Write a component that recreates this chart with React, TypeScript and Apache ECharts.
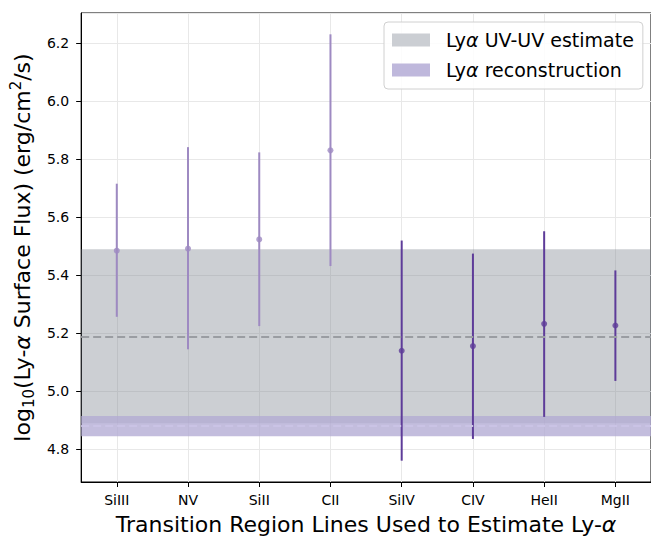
import React, { useEffect, useRef } from "react";
import * as echarts from "echarts";

const categories = ["SiIII", "NV", "SiII", "CII", "SiIV", "CIV", "HeII", "MgII"];
const values = [5.485, 5.492, 5.524, 5.831, 5.14, 5.156, 5.233, 5.227];
const lower = [5.257, 5.145, 5.225, 5.432, 4.761, 4.836, 4.912, 5.036];
const upper = [5.716, 5.842, 5.824, 6.231, 5.52, 5.475, 5.552, 5.417];
// 0 = lighter (first group), 1 = darker (second group)
const group = [0, 0, 0, 0, 1, 1, 1, 1];

const uvEstimate = { center: 5.19, lo: 4.89, hi: 5.49 };
const reconstruction = { center: 4.88, lo: 4.845, hi: 4.915 };

const yMin = 4.6875;
const yMax = 6.3045;

const FONT = "DejaVu Sans";
const groupColors = ["#9e8ac2", "#5e3c99"];

export default function App() {
  const ref = useRef<HTMLDivElement>(null);

  useEffect(() => {
    if (!ref.current) return;
    const chart = echarts.init(ref.current, null, { renderer: "svg" });

    const errData = categories.map((_, i) => [i, lower[i], upper[i], group[i]]);
    const ptData = categories.map((_, i) => ({
      value: [i, values[i]],
      itemStyle: { color: groupColors[group[i]] },
    }));

    chart.setOption({
      animation: false,
      backgroundColor: "#fff",
      textStyle: { fontFamily: FONT },
      grid: {
        left: 77,
        right: 0,
        top: 13,
        bottom: 53,
        show: true,
        borderColor: "#000",
        borderWidth: 1,
        backgroundColor: "transparent",
      },
      legend: {
        show: true,
        orient: "vertical",
        left: 384,
        top: 22,
        padding: [8, 9, 9, 8],
        itemGap: 10,
        itemWidth: 38,
        itemHeight: 13,
        icon: "rect",
        backgroundColor: "rgba(255,255,255,0.85)",
        borderColor: "#d0d0d0",
        borderWidth: 1,
        borderRadius: 4,
        selectedMode: false,
        data: ["Lyα UV-UV estimate", "Lyα reconstruction"],
        formatter: (name: string) => name.replace("α", "{i|α}"),
        textStyle: {
          fontFamily: FONT,
          fontSize: 19,
          lineHeight: 20,
          color: "#000",
          padding: [0, 0, 0, 11],
          rich: {
            i: { fontFamily: FONT, fontSize: 19, fontStyle: "italic", color: "#000", lineHeight: 20 },
          },
        },
      },
      xAxis: {
        type: "category",
        data: categories,
        boundaryGap: true,
        name: "Transition Region Lines Used to Estimate Ly-{i|α}",
        nameLocation: "middle",
        nameGap: 30,
        nameTextStyle: {
          fontFamily: FONT,
          fontSize: 22,
          color: "#000",
          lineHeight: 24,
          rich: {
            i: { fontFamily: FONT, fontSize: 22, fontStyle: "italic", color: "#000", lineHeight: 24 },
          },
        },
        axisLine: { show: true, lineStyle: { color: "#000", width: 1 } },
        axisTick: { show: true, alignWithLabel: true, length: 5, lineStyle: { color: "#000", width: 1 } },
        axisLabel: { fontFamily: FONT, fontSize: 14, color: "#000", margin: 11 },
        splitLine: { show: true, alignWithLabel: true, lineStyle: { color: "#e8e8e8", width: 1 } },
      },
      yAxis: {
        type: "value",
        min: yMin,
        max: yMax,
        splitNumber: 8,
        name:
          "{b|log}{s|10}{b|(Ly-}{i|α}{b| Surface Flux) (erg/cm}{p|2}{b|/s)}",
        nameLocation: "middle",
        nameGap: 39,
        nameTextStyle: {
          fontFamily: FONT,
          color: "#000",
          rich: {
            b: { fontFamily: FONT, fontSize: 22, color: "#000", lineHeight: 28 },
            i: { fontFamily: FONT, fontSize: 22, fontStyle: "italic", color: "#000", lineHeight: 28 },
            s: { fontFamily: FONT, fontSize: 15, color: "#000", lineHeight: 16, verticalAlign: "bottom" },
            p: { fontFamily: FONT, fontSize: 15, color: "#000", lineHeight: 16, verticalAlign: "top" },
          },
        },
        axisLine: { show: true, lineStyle: { color: "#000", width: 1 } },
        axisTick: { show: true, length: 5, lineStyle: { color: "#000", width: 1 } },
        axisLabel: {
          fontFamily: FONT,
          fontSize: 14,
          color: "#000",
          margin: 12,
          showMinLabel: false,
          showMaxLabel: false,
          formatter: (v: number) => v.toFixed(1),
        },
        splitLine: { show: true, lineStyle: { color: "#e8e8e8", width: 1 } },
      },
      series: [
        {
          name: "Lyα UV-UV estimate",
          type: "line",
          data: [],
          z: 1,
          color: "#cbced3",
          itemStyle: { color: "#cbced3" },
          lineStyle: { color: "#cbced3" },
          markArea: {
            silent: true,
            itemStyle: { color: "rgba(120,128,140,0.38)" },
            data: [[{ yAxis: uvEstimate.lo }, { yAxis: uvEstimate.hi }]],
          },
          markLine: {
            silent: true,
            symbol: "none",
            label: { show: false },
            lineStyle: { color: "#9a9da2", type: [8, 4], width: 2 },
            data: [{ yAxis: uvEstimate.center }],
          },
        },
        {
          name: "Lyα reconstruction",
          type: "line",
          data: [],
          z: 2,
          color: "#bfb8dc",
          itemStyle: { color: "#bfb8dc" },
          lineStyle: { color: "#bfb8dc" },
          markArea: {
            silent: true,
            itemStyle: { color: "rgba(178,170,212,0.78)" },
            data: [[{ yAxis: reconstruction.lo }, { yAxis: reconstruction.hi }]],
          },
          markLine: {
            silent: true,
            symbol: "none",
            label: { show: false },
            lineStyle: { color: "#cac3e5", type: [8, 4], width: 2 },
            data: [{ yAxis: reconstruction.center }],
          },
        },
        {
          type: "custom",
          z: 3,
          silent: true,
          data: errData,
          encode: { x: 0, y: [1, 2] },
          renderItem: (params: any, api: any) => {
            const x = api.value(0);
            const lo = api.coord([x, api.value(1)]);
            const hi = api.coord([x, api.value(2)]);
            const g = api.value(3);
            return {
              type: "line",
              shape: { x1: lo[0], y1: lo[1], x2: hi[0], y2: hi[1] },
              style: { stroke: groupColors[g], lineWidth: 2 },
            };
          },
        },
        {
          type: "scatter",
          z: 4,
          silent: true,
          symbol: "circle",
          symbolSize: 6,
          data: ptData,
        },
      ],
    });

    return () => chart.dispose();
  }, []);

  return (
    <div
      ref={ref}
      style={{ position: "absolute", left: 0, top: 0, width: 651, height: 541 }}
    />
  );
}
